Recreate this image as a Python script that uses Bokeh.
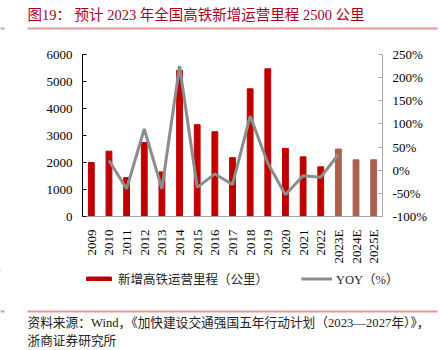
import math
from bokeh.plotting import figure
from bokeh.layouts import column, row
from bokeh.models import (FactorRange, Range1d, LinearAxis, NumeralTickFormatter,
                          Legend, LegendItem, ColumnDataSource, FixedTicker)
from bokeh.embed import file_html
from bokeh.resources import INLINE
from bokeh.core.properties import value

years = ["2009", "2010", "2011", "2012", "2013", "2014", "2015", "2016", "2017",
         "2018", "2019", "2020", "2021", "2022", "2023E", "2024E", "2025E"]
mileage = [2000, 2420, 1440, 2740, 1650, 5410, 3400, 3140, 2180,
           4730, 5470, 2520, 2210, 1840, 2500, 2100, 2100]
is_estimate = [False] * 14 + [True] * 3
yoy_years = years[1:15]
yoy = [0.21, -0.40, 0.89, -0.40, 2.25, -0.37, -0.08, -0.31, 1.17,
       0.15, -0.53, -0.12, -0.15, 0.34]
left_ticks = [0, 1000, 2000, 3000, 4000, 5000, 6000]
right_ticks = [-1.0, -0.5, 0.0, 0.5, 1.0, 1.5, 2.0, 2.5]

title_text = "图19：   预计 2023 年全国高铁新增运营里程 2500 公里"
source_line1 = "资料来源：Wind，《加快建设交通强国五年行动计划（2023—2027年）》，"
source_line2 = "浙商证券研究所"
bar_label = "新增高铁运营里程（公里）"
line_label = "YOY（%）"

SERIF = "Liberation Serif, Noto Sans CJK SC"
RED = "#C00000"
BROWN = "#A9614C"
GRAY = "#8C8C8C"
SEP = "#E59A9A"
W = 440


def blank_fig(h):
    f = figure(width=W, height=h, output_backend="svg", toolbar_location=None,
               x_range=Range1d(0, W), y_range=Range1d(h, 0),
               x_axis_location=None, y_axis_location=None,
               min_border=0, min_border_left=0, min_border_right=0,
               min_border_top=0, min_border_bottom=0)
    f.outline_line_color = None
    f.xgrid.visible = False
    f.ygrid.visible = False
    return f


# ---------- header ----------
HH = 40
head = blank_fig(HH)
head.text(x=[27], y=[14], text=[title_text], text_font=value(SERIF), text_font_size="14.5px",
          text_color="#A8001F", text_baseline="middle")
head.segment(x0=[27, 0], y0=[28, 28], x1=[437, 4], y1=[28, 28], line_color=SEP, line_width=2)

# ---------- main chart ----------
MH = 230
p = figure(width=W, height=MH, output_backend="svg", toolbar_location=None,
           x_range=FactorRange(factors=years), y_range=Range1d(0, 6000),
           min_border_left=82, min_border_right=58, min_border_top=14, min_border_bottom=54)
p.outline_line_color = None
p.xgrid.visible = False
p.ygrid.visible = False

colors = [BROWN if e else RED for e in is_estimate]
src = ColumnDataSource(dict(x=years, top=mileage, color=colors))
p.vbar(x="x", top="top", width=0.33, color="color", source=src)

p.extra_y_ranges = {"yoy": Range1d(-1.0, 2.5)}
p.line(x=yoy_years, y=yoy, y_range_name="yoy", line_color=GRAY, line_width=3)

ya = p.yaxis[0]
ya.ticker = FixedTicker(ticks=left_ticks)
ya.axis_line_color = "#000000"
ya.major_tick_line_color = "#000000"
ya.major_tick_in = 4
ya.major_tick_out = 0
ya.minor_tick_line_color = None
ya.major_label_text_font = SERIF
ya.major_label_text_font_size = "13px"
ya.major_label_text_color = "#000000"
ya.major_label_standoff = 10

ra = LinearAxis(y_range_name="yoy", ticker=FixedTicker(ticks=right_ticks),
                formatter=NumeralTickFormatter(format="0%"))
ra.axis_line_color = "#A6A6A6"
ra.major_tick_line_color = "#A6A6A6"
ra.major_tick_in = 4
ra.major_tick_out = 0
ra.minor_tick_line_color = None
ra.major_label_text_font = SERIF
ra.major_label_text_font_size = "13px"
ra.major_label_text_color = "#000000"
ra.major_label_standoff = 10
p.add_layout(ra, "right")

xa = p.xaxis[0]
xa.axis_line_color = "#A6A6A6"
xa.major_tick_line_color = None
xa.minor_tick_line_color = None
xa.major_label_orientation = math.pi / 2
xa.major_label_text_font = SERIF
xa.major_label_text_font_size = "13px"
xa.major_label_text_color = "#000000"
xa.major_label_standoff = 7

# ---------- footer (legend + source) ----------
FH = 80
foot = blank_fig(FH)
# legend proxies (placed outside the visible range)
lg_bar = foot.vbar(x=[-100], top=[-100], bottom=[-110], width=1, color=RED)
lg_line = foot.line(x=[-110, -100], y=[-100, -100], line_color=GRAY, line_width=3)
legend = Legend(items=[LegendItem(label=bar_label, renderers=[lg_bar]),
                       LegendItem(label=line_label, renderers=[lg_line])],
                orientation="horizontal", location=(83, FH - 11 - 7), padding=0, margin=0,
                spacing=33, glyph_width=31, glyph_height=5, label_height=14,
                label_standoff=4, label_text_font=SERIF, label_text_font_size="12.5px",
                label_text_color="#222222",
                border_line_color=None, background_fill_alpha=0)
foot.add_layout(legend, "center")
foot.segment(x0=[27, 0], y0=[41, 41], x1=[437, 4], y1=[41, 41], line_color=SEP, line_width=2)
foot.text(x=[27, 27], y=[52, 70], text=[source_line1, source_line2], text_font=value(SERIF),
          text_font_size="12.7px", text_color="#222222", text_baseline="middle")

layout = column(row(head), row(p), row(foot), spacing=0)
open("out.html", "w").write(file_html(layout, INLINE))
